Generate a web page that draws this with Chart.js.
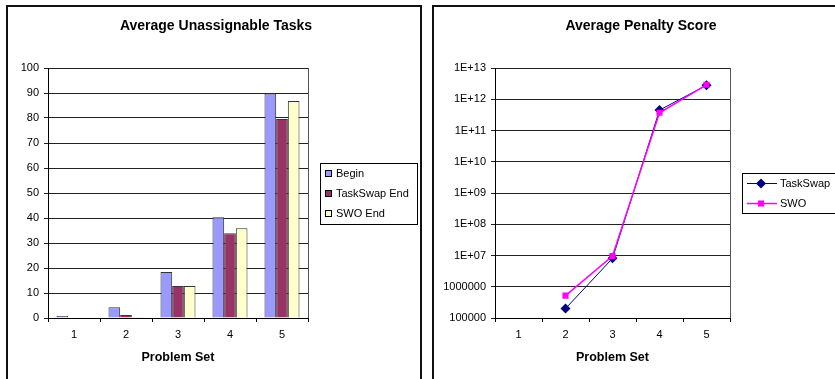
<!DOCTYPE html>
<html>
<head>
<meta charset="utf-8">
<script src="https://cdn.jsdelivr.net/npm/chart.js@4.4.0/dist/chart.umd.min.js"></script>
<style>
  html, body { margin: 0; padding: 0; background: #fff; width: 835px; height: 379px; overflow: hidden; }
  .panel { position: absolute; border: 2px solid #111; box-sizing: border-box; }
  canvas { position: absolute; }
</style>
</head>
<body>
<div class="panel" style="left:6px;top:5px;width:416px;height:420px"></div>
<div class="panel" style="left:432px;top:5px;width:450px;height:420px"></div>
<canvas id="tasks" width="412" height="372" style="left:8px;top:7px"></canvas>
<canvas id="penalty" width="401" height="372" style="left:434px;top:7px"></canvas>
<script>
// data
const problemSets = ["1", "2", "3", "4", "5"];

const taskSeries = ["Begin", "TaskSwap End", "SWO End"];
const beginTasks = [0.8, 4.3, 18.4, 40.3, 89.8];
const taskSwapEndTasks = [0, 1.2, 12.8, 33.9, 79.6];
const swoEndTasks = [0, 0.3, 12.8, 35.9, 86.8];
const taskTicks = [0, 10, 20, 30, 40, 50, 60, 70, 80, 90, 100];

const penaltySeries = ["TaskSwap", "SWO"];
const taskSwapPenalty = [null, 2.0e5, 8.1e6, 4.5e11, 2.8e12];
const swoPenalty = [null, 5.2e5, 9.6e6, 3.7e11, 2.9e12];
const penaltyTickValues = [1e5, 1e6, 1e7, 1e8, 1e9, 1e10, 1e11, 1e12, 1e13];
const penaltyTickLabels = ["100000", "1000000", "1E+07", "1E+08", "1E+09", "1E+10", "1E+11", "1E+12", "1E+13"];

Chart.defaults.font.family = '"Liberation Sans", Arial, sans-serif';
Chart.defaults.color = "#000";

// gray plot border + title centred over the whole panel
const framePlugin = {
  id: "frame",
  afterLayout(chart, args, opts) {
    const t = chart.titleBlock;
    const half = chart.width / 2;
    t.left = opts.titleX - half;
    t.right = opts.titleX + half;
  },
  beforeDraw(chart, args, opts) {
    const a = chart.chartArea, ctx = chart.ctx;
    ctx.save();
    ctx.strokeStyle = opts.color;
    ctx.lineWidth = 1;
    ctx.strokeRect(Math.round(a.left) + 0.5, Math.round(a.top) + 0.5, Math.round(a.width), Math.round(a.height));
    ctx.restore();
  }
};

// Excel-like boxed legend
const boxLegend = {
  id: "boxLegend",
  afterDraw(chart, args, o) {
    const ctx = chart.ctx;
    ctx.save();
    ctx.fillStyle = "#fff";
    ctx.fillRect(o.x, o.y, o.w, o.h);
    ctx.strokeStyle = "#000";
    ctx.lineWidth = 1;
    ctx.strokeRect(o.x + 0.5, o.y + 0.5, o.w, o.h);
    ctx.font = '11px "Liberation Sans", Arial, sans-serif';
    ctx.textBaseline = "middle";
    chart.data.datasets.forEach((ds, i) => {
      const cy = Math.round(o.y + o.first + i * o.step);
      if (o.kind === "bar") {
        ctx.fillStyle = ds.backgroundColor;
        ctx.fillRect(o.x + 5, cy - 3, 6, 6);
        ctx.strokeStyle = "#000";
        ctx.strokeRect(o.x + 5.5, cy - 2.5, 6, 6);
      } else {
        ctx.strokeStyle = ds.borderColor;
        ctx.lineWidth = ds.borderWidth;
        ctx.beginPath();
        ctx.moveTo(o.x + 5, cy + 0.5);
        ctx.lineTo(o.x + 35, cy + 0.5);
        ctx.stroke();
        ctx.fillStyle = ds.backgroundColor;
        Chart.helpers.drawPoint(ctx, { pointStyle: ds.pointStyle, radius: ds.pointRadius, rotation: 0, borderWidth: 0 }, o.x + 19, cy + 0.5);
      }
      ctx.fillStyle = "#000";
      ctx.fillText(ds.label, o.x + o.textX, cy + 0.5);
    });
    ctx.restore();
  }
};

new Chart(document.getElementById("tasks"), {
  type: "bar",
  data: {
    labels: problemSets,
    datasets: [
      { label: taskSeries[0], data: beginTasks, backgroundColor: "#9999FF" },
      { label: taskSeries[1], data: taskSwapEndTasks, backgroundColor: "#993366" },
      { label: taskSeries[2], data: swoEndTasks, backgroundColor: "#FFFFCC" }
    ]
  },
  options: {
    responsive: false,
    animation: false,
    layout: { padding: { left: 0, right: 112, top: 0, bottom: 0 } },
    datasets: { bar: { categoryPercentage: 0.673, barPercentage: 1, borderColor: "#333", borderWidth: 1 } },
    plugins: {
      legend: { display: false },
      tooltip: { enabled: false },
      title: {
        display: true,
        text: "Average Unassignable Tasks",
        font: { size: 14, weight: "bold" },
        padding: { top: 10.6, bottom: 33.6 }
      },
      frame: { color: "#555", titleX: 208 },
      boxLegend: { kind: "bar", x: 312, y: 156, w: 97, h: 61, first: 10, step: 20, textX: 16 }
    },
    scales: {
      x: {
        grid: { drawOnChartArea: false, tickLength: 4, color: "#000", offset: true },
        border: { color: "#000" },
        ticks: { font: { size: 11 }, padding: 6, maxRotation: 0 },
        title: { display: true, text: "Problem Set", font: { size: 12.5, weight: "bold" }, padding: { top: 0, bottom: 13.5 } },
        afterFit: s => { s.height = 61; }
      },
      y: {
        min: 0,
        max: 100,
        afterBuildTicks: s => { s.ticks = taskTicks.map(v => ({ value: v })); },
        ticks: { font: { size: 11 }, padding: 5 },
        grid: { color: "#222", tickLength: 4 },
        border: { color: "#000" },
        afterFit: s => { s.width = 40; }
      }
    }
  },
  plugins: [framePlugin, boxLegend]
});

new Chart(document.getElementById("penalty"), {
  type: "line",
  data: {
    labels: problemSets,
    datasets: [
      { label: penaltySeries[0], data: taskSwapPenalty, borderColor: "#000080", backgroundColor: "#000080",
        borderWidth: 1, pointStyle: "rectRot", pointRadius: 5, pointBorderWidth: 0, order: 1 },
      { label: penaltySeries[1], data: swoPenalty, borderColor: "#FF00FF", backgroundColor: "#FF00FF",
        borderWidth: 1.5, pointStyle: "rect", pointRadius: 4.3, pointBorderWidth: 0, order: 0 }
    ]
  },
  options: {
    responsive: false,
    animation: false,
    layout: { padding: { left: 0, right: 105, top: 0, bottom: 0 } },
    plugins: {
      legend: { display: false },
      tooltip: { enabled: false },
      title: {
        display: true,
        text: "Average Penalty Score",
        font: { size: 14, weight: "bold" },
        padding: { top: 10.6, bottom: 33.6 }
      },
      frame: { color: "#555", titleX: 207 },
      boxLegend: { kind: "line", x: 308, y: 166, w: 200, h: 40, first: 10, step: 19.5, textX: 38 }
    },
    scales: {
      x: {
        offset: true,
        grid: { drawOnChartArea: false, tickLength: 4, color: "#000", offset: true },
        border: { color: "#000" },
        ticks: { font: { size: 11 }, padding: 6, maxRotation: 0 },
        title: { display: true, text: "Problem Set", font: { size: 12.5, weight: "bold" }, padding: { top: 0, bottom: 13.5 } },
        afterFit: s => { s.height = 61; }
      },
      y: {
        type: "logarithmic",
        min: penaltyTickValues[0],
        max: penaltyTickValues[penaltyTickValues.length - 1],
        afterBuildTicks: s => { s.ticks = penaltyTickValues.map(v => ({ value: v })); },
        ticks: { font: { size: 11 }, padding: 5, autoSkip: false, callback: (v, i) => penaltyTickLabels[i] },
        grid: { color: "#222", tickLength: 4 },
        border: { color: "#000" },
        afterFit: s => { s.width = 61; }
      }
    }
  },
  plugins: [framePlugin, boxLegend]
});
</script>
</body>
</html>
